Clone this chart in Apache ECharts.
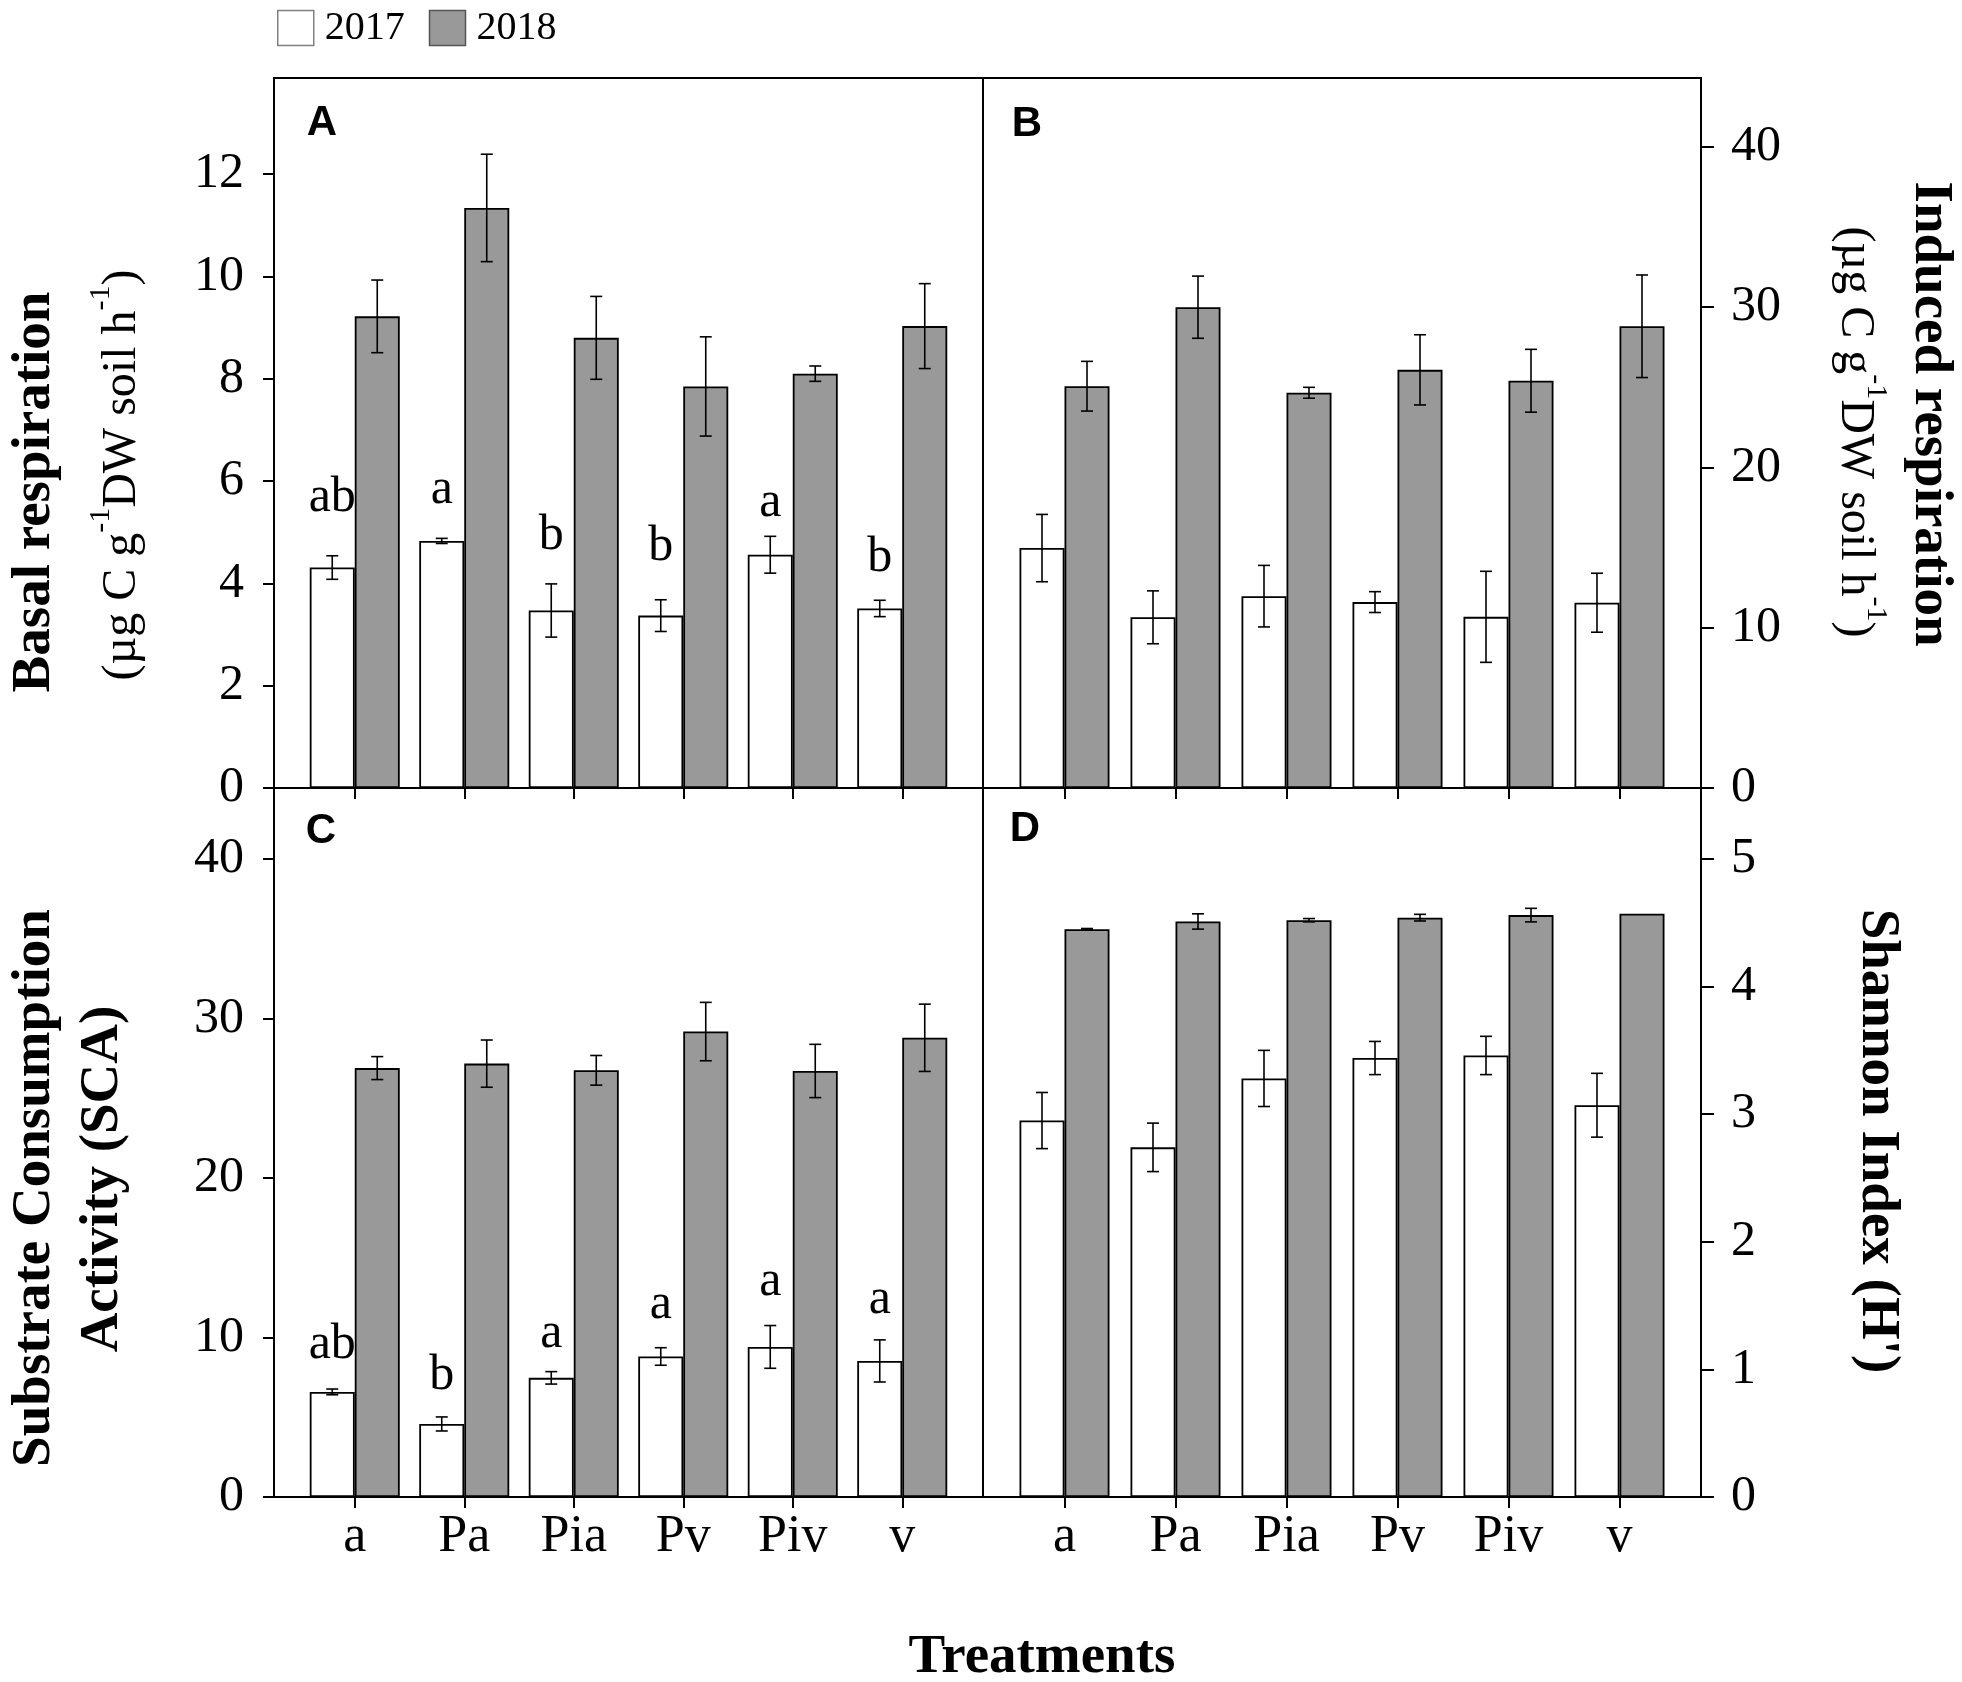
<!DOCTYPE html>
<html>
<head>
<meta charset="UTF-8">
<script src="https://cdn.jsdelivr.net/npm/echarts@6/dist/echarts.min.js"></script>
<style>
html, body { margin: 0; padding: 0; background: #fff; }
#main { width: 1962px; height: 1682px; }
</style>
</head>
<body>
<div id="main"></div>
<script type="text/javascript">
// data
var categories = ['a', 'Pa', 'Pia', 'Pv', 'Piv', 'v'];

var basal2017 = [4.31, 4.83, 3.47, 3.37, 4.56, 3.51];
var basal2017Err = [0.23, 0.05, 0.52, 0.31, 0.36, 0.16];
var basal2018 = [9.22, 11.34, 8.80, 7.85, 8.10, 9.03];
var basal2018Err = [0.71, 1.05, 0.81, 0.97, 0.15, 0.83];

var induced2017 = [14.97, 10.65, 11.97, 11.60, 10.68, 11.56];
var induced2017Err = [2.10, 1.65, 1.92, 0.65, 2.84, 1.84];
var induced2018 = [25.07, 30.00, 24.66, 26.09, 25.41, 28.81];
var induced2018Err = [1.55, 1.94, 0.34, 2.19, 1.96, 3.20];

var sca2017 = [6.59, 4.58, 7.47, 8.81, 9.41, 8.53];
var sca2017Err = [0.18, 0.44, 0.39, 0.55, 1.34, 1.32];
var sca2018 = [26.89, 27.17, 26.75, 29.18, 26.71, 28.79];
var sca2018Err = [0.72, 1.48, 0.93, 1.83, 1.67, 2.11];

var shannon2017 = [2.95, 2.74, 3.28, 3.44, 3.46, 3.07];
var shannon2017Err = [0.22, 0.19, 0.22, 0.13, 0.15, 0.25];
var shannon2018 = [4.45, 4.51, 4.52, 4.54, 4.56, 4.57];
var shannon2018Err = [0.005, 0.06, 0.013, 0.026, 0.053, 0];

// significance letters over the 2017 bars, and the height they sit at
var basalLetters = ['ab', 'a', 'b', 'b', 'a', 'b'];
var basalLetterY = [5.67, 5.83, 4.93, 4.72, 5.57, 4.50];
var scaLetters = ['ab', 'b', 'a', 'a', 'a', 'a'];
var scaLetterY = [9.53, 7.59, 10.23, 12.07, 13.47, 12.35];

var basalTicks = [0, 2, 4, 6, 8, 10, 12];
var inducedTicks = [0, 10, 20, 30, 40];
var scaTicks = [0, 10, 20, 30, 40];
var shannonTicks = [0, 1, 2, 3, 4, 5];

var SERIF = 'Liberation Serif';
var SANS = 'Liberation Sans';
var BAR_W = 45;
var CAP = 6;
var GRAY = '#999999';

var myChart = echarts.init(document.getElementById('main'));

// panel layout (frame 274..983..1701 / 78..788..1497, bars inset 26px)
var grids = [
    {left: 300, top: 78, width: 657, height: 710},
    {left: 1009, top: 78, width: 666, height: 710},
    {left: 300, top: 788, width: 657, height: 709},
    {left: 1009, top: 788, width: 666, height: 709}
];

function xAxisFor(i, showLabel) {
    return {
        type: 'category', gridIndex: i, data: categories,
        axisLine: {show: true, lineStyle: {color: '#000', width: 2}},
        axisTick: {show: true, alignWithLabel: true, interval: 0, length: 11, lineStyle: {color: '#000', width: 2}},
        axisLabel: {show: showLabel, interval: 0, margin: 14, color: '#000', fontFamily: SERIF, fontSize: 52},
        splitLine: {show: false}
    };
}

function yAxisFor(i, side, max, ticks) {
    return {
        type: 'value', gridIndex: i, position: side, offset: 26,
        min: 0, max: max,
        axisLine: {show: true, lineStyle: {color: '#000', width: 2}},
        axisTick: {show: true, length: side === 'left' ? 11 : 13, customValues: ticks, lineStyle: {color: '#000', width: 2}},
        axisLabel: {customValues: ticks, margin: 30, color: '#000', fontFamily: SERIF, fontSize: 50},
        splitLine: {show: false}
    };
}

function bars(i, name, values, color) {
    return {
        type: 'bar', name: name, xAxisIndex: i, yAxisIndex: i,
        data: values, barWidth: BAR_W, barGap: '0%',
        itemStyle: {color: color, borderColor: '#000', borderWidth: 1.8},
        z: 2
    };
}

function errorBars(i, means, errs, side) {
    return {
        type: 'custom', xAxisIndex: i, yAxisIndex: i, z: 5, clip: false,
        data: means.map(function (m, k) { return [k, m, errs[k]]; }),
        encode: {x: 0, y: 1},
        renderItem: function (params, api) {
            var e = api.value(2);
            if (!e) return null;
            var lo = api.coord([api.value(0), api.value(1) - e]);
            var hi = api.coord([api.value(0), api.value(1) + e]);
            var x = lo[0] + side * BAR_W / 2;
            var st = {stroke: '#000', lineWidth: 1.6};
            return {
                type: 'group',
                children: [
                    {type: 'line', shape: {x1: x, y1: lo[1], x2: x, y2: hi[1]}, style: st},
                    {type: 'line', shape: {x1: x - CAP, y1: hi[1], x2: x + CAP, y2: hi[1]}, style: st},
                    {type: 'line', shape: {x1: x - CAP, y1: lo[1], x2: x + CAP, y2: lo[1]}, style: st}
                ]
            };
        }
    };
}

function letters(i, ys, texts) {
    return {
        type: 'custom', xAxisIndex: i, yAxisIndex: i, z: 6, clip: false,
        data: ys.map(function (y, k) { return [k, y]; }),
        encode: {x: 0, y: 1},
        renderItem: function (params, api) {
            var p = api.coord([api.value(0), api.value(1)]);
            return {
                type: 'text',
                x: p[0] - BAR_W / 2, y: p[1],
                style: {
                    text: texts[params.dataIndex], fill: '#000',
                    font: '50px "' + SERIF + '"',
                    align: 'center', verticalAlign: 'middle',
                    textAlign: 'center', textVerticalAlign: 'middle'
                }
            };
        }
    };
}

var supRich = {
    n: {fontFamily: SERIF, fontSize: 48, lineHeight: 72, color: '#000'},
    s: {fontFamily: SERIF, fontSize: 30, lineHeight: 30, verticalAlign: 'top', color: '#000'}
};
var unitText = '{n|(\u00b5g C g}{s|-1}{n|DW soil h}{s|-1}{n|)}';

function title(x, y, rot, text, bold) {
    return {
        type: 'text', x: x, y: y, rotation: rot, z: 10,
        style: {
            text: text, fill: '#000',
            font: (bold ? 'bold ' : '') + '55px "' + SERIF + '"',
            align: 'center', verticalAlign: 'middle',
            textAlign: 'center', textVerticalAlign: 'middle'
        }
    };
}

function unitTitle(x, y, rot) {
    return {
        type: 'text', x: x, y: y, rotation: rot, z: 10,
        style: {
            text: unitText, rich: supRich, fill: '#000',
            align: 'center', verticalAlign: 'middle',
            textAlign: 'center', textVerticalAlign: 'middle'
        }
    };
}

function panelLetter(x, y, t) {
    return {
        type: 'text', x: x, y: y, z: 10,
        style: {
            text: t, fill: '#000', font: 'bold 42px "' + SANS + '"',
            align: 'center', verticalAlign: 'middle',
            textAlign: 'center', textVerticalAlign: 'middle'
        }
    };
}

var lineSt = {stroke: '#000', lineWidth: 2};

var option = {
    animation: false,
    backgroundColor: '#fff',
    legend: {
        left: 272, top: 3,
        itemWidth: 36, itemHeight: 35, itemGap: 24, icon: 'rect',
        data: [
            {name: '2017', itemStyle: {borderColor: '#808080', borderWidth: 1.5}},
            {name: '2018', itemStyle: {borderColor: '#555', borderWidth: 1.5}}
        ],
        textStyle: {fontFamily: SERIF, fontSize: 40, color: '#000', padding: [0, 0, 0, 6]}
    },
    grid: grids,
    xAxis: [xAxisFor(0, false), xAxisFor(1, false), xAxisFor(2, true), xAxisFor(3, true)],
    yAxis: [
        yAxisFor(0, 'left', 13.88, basalTicks),
        yAxisFor(1, 'right', 44.3, inducedTicks),
        yAxisFor(2, 'left', 44.45, scaTicks),
        yAxisFor(3, 'right', 5.556, shannonTicks)
    ],
    series: [
        bars(0, '2017', basal2017, '#fff'), bars(0, '2018', basal2018, GRAY),
        bars(1, '2017', induced2017, '#fff'), bars(1, '2018', induced2018, GRAY),
        bars(2, '2017', sca2017, '#fff'), bars(2, '2018', sca2018, GRAY),
        bars(3, '2017', shannon2017, '#fff'), bars(3, '2018', shannon2018, GRAY),
        errorBars(0, basal2017, basal2017Err, -1), errorBars(0, basal2018, basal2018Err, 1),
        errorBars(1, induced2017, induced2017Err, -1), errorBars(1, induced2018, induced2018Err, 1),
        errorBars(2, sca2017, sca2017Err, -1), errorBars(2, sca2018, sca2018Err, 1),
        errorBars(3, shannon2017, shannon2017Err, -1), errorBars(3, shannon2018, shannon2018Err, 1),
        letters(0, basalLetterY, basalLetters),
        letters(2, scaLetterY, scaLetters)
    ],
    graphic: [
        // panel frame
        {type: 'rect', z: 8, shape: {x: 274, y: 78, width: 1427, height: 1419}, style: {fill: 'none', stroke: '#000', lineWidth: 2}},
        {type: 'line', z: 8, shape: {x1: 983, y1: 78, x2: 983, y2: 1497}, style: lineSt},
        {type: 'line', z: 8, shape: {x1: 274, y1: 788, x2: 1701, y2: 788}, style: lineSt},
        panelLetter(322, 123, 'A'),
        panelLetter(1027, 124, 'B'),
        panelLetter(321, 831, 'C'),
        panelLetter(1025, 829, 'D'),
        title(35, 492, Math.PI / 2, 'Basal respiration', true),
        unitTitle(122, 475, Math.PI / 2),
        title(1930, 414, -Math.PI / 2, 'Induced respiration', true),
        unitTitle(1855, 432, -Math.PI / 2),
        title(35, 1188, Math.PI / 2, 'Substrate Consumption', true),
        title(103, 1179, Math.PI / 2, 'Activity (SCA)', true),
        title(1877, 1141, -Math.PI / 2, "Shannon Index (H')", true),
        title(1042, 1658, 0, 'Treatments', true)
    ]
};

myChart.setOption(option);
</script>
</body>
</html>
